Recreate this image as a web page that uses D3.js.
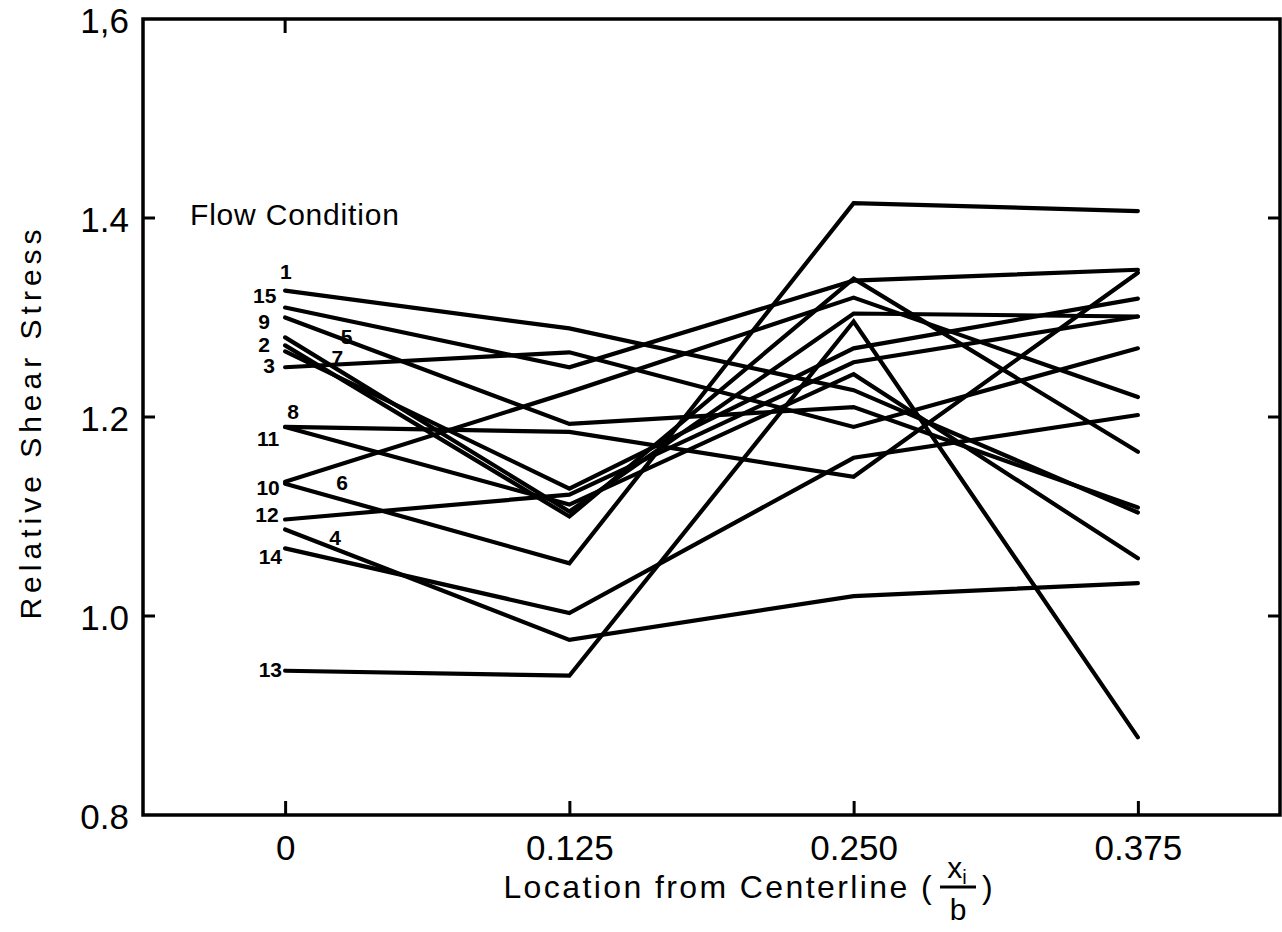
<!DOCTYPE html>
<html>
<head>
<meta charset="utf-8">
<script src="https://cdn.jsdelivr.net/npm/d3@7"></script>
<style>
  html, body { margin: 0; padding: 0; background: #fff; }
  svg { display: block; }
  text { font-family: "Liberation Sans", Arial, sans-serif; fill: #000; }
</style>
</head>
<body>
<svg id="chart" width="1282" height="932"></svg>
<script>
// Measurement stations across the channel (x_i / b)
const locations = [0, 0.125, 0.250, 0.375];
const locationLabels = ["0", "0.125", "0.250", "0.375"];

// Relative shear stress for each flow condition at the four stations
const flow1  = [1.327, 1.289, 1.227, 1.104];
const flow2  = [1.280, 1.105, 1.304, 1.301];
const flow3  = [1.250, 1.265, 1.190, 1.269];
const flow4  = [1.087, 0.976, 1.020, 1.033];
const flow5  = [1.272, 1.100, 1.339, 1.165];
const flow6  = [1.133, 1.053, 1.415, 1.407];
const flow7  = [1.266, 1.128, 1.269, 1.319];
const flow8  = [1.190, 1.185, 1.140, 1.345];
const flow9  = [1.300, 1.193, 1.210, 1.109];
const flow10 = [1.135, 1.225, 1.320, 1.220];
const flow11 = [1.190, 1.112, 1.243, 1.058];
const flow12 = [1.097, 1.122, 1.255, 1.301];
const flow13 = [0.945, 0.940, 1.296, 0.878];
const flow14 = [1.068, 1.003, 1.159, 1.202];
const flow15 = [1.310, 1.250, 1.337, 1.348];

const flowNames = ["1","2","3","4","5","6","7","8","9","10","11","12","13","14","15"];
const flowValues = [flow1, flow2, flow3, flow4, flow5, flow6, flow7, flow8,
                    flow9, flow10, flow11, flow12, flow13, flow14, flow15];

// Where each flow-condition number is lettered (location, stress)
const tagLocation = [0.0003, -0.0093, -0.0070, 0.0220, 0.0270, 0.0250, 0.0230, 0.0035,
                     -0.0093, -0.0075, -0.0075, -0.0080, -0.0065, -0.0065, -0.0090];
const tagStress   = [1.346, 1.273, 1.252, 1.079, 1.281, 1.134, 1.260, 1.206,
                     1.296, 1.129, 1.178, 1.102, 0.946, 1.060, 1.322];

const yTicks = [0.8, 1.0, 1.2, 1.4, 1.6];
const yTickLabels = ["0.8", "1.0", "1.2", "1.4", "1,6"];

const series = flowNames.map((name, i) => ({
  name,
  points: locations.map((loc, j) => ({ loc, value: flowValues[i][j] })),
  tag: { loc: tagLocation[i], value: tagStress[i] }
}));

const svg = d3.select("#chart");
const x = d3.scaleLinear().domain([-0.0625, 0.4375]).range([143, 1280]);
const y = d3.scaleLinear().domain([0.8, 1.6]).range([815, 19]);

// Data lines
const line = d3.line().x(d => x(d.loc)).y(d => y(d.value));
svg.append("g")
  .selectAll("path")
  .data(series)
  .join("path")
  .attr("d", d => line(d.points))
  .attr("fill", "none")
  .attr("stroke", "#000")
  .attr("stroke-width", 4.2)
  .attr("stroke-linejoin", "miter")
  .attr("stroke-linecap", "round");

// Plot frame
svg.append("rect")
  .attr("x", x(-0.0625)).attr("y", y(1.6))
  .attr("width", x(0.4375) - x(-0.0625))
  .attr("height", y(0.8) - y(1.6))
  .attr("fill", "none").attr("stroke", "#000").attr("stroke-width", 3.5);

// Bottom axis: inward ticks and labels
const xAxis = d3.axisBottom(x).tickValues(locations).tickSize(-14)
  .tickFormat((d, i) => locationLabels[i]).tickPadding(20);
const gx = svg.append("g").attr("transform", `translate(0,${y(0.8)})`).call(xAxis);
gx.select(".domain").remove();
gx.selectAll(".tick line").attr("stroke", "#000").attr("stroke-width", 3);
gx.selectAll(".tick text").attr("font-size", 35).attr("dy", "0.71em");

// Top tick at the centerline
svg.append("line")
  .attr("x1", x(0)).attr("x2", x(0))
  .attr("y1", y(1.6)).attr("y2", y(1.6) + 14)
  .attr("stroke", "#000").attr("stroke-width", 3);

// Left axis: inward ticks on interior values, labels on all
const yAxis = d3.axisLeft(y).tickValues(yTicks).tickSize(0)
  .tickFormat((d, i) => yTickLabels[i]).tickPadding(14);
const gy = svg.append("g").attr("transform", `translate(${x(-0.0625)},0)`).call(yAxis);
gy.select(".domain").remove();
gy.selectAll(".tick text").attr("font-size", 35).attr("dy", "0.38em");

const innerTicks = yTicks.filter(v => v > 0.8 && v < 1.6);
svg.append("g").selectAll("line").data(innerTicks).join("line")
  .attr("x1", x(-0.0625)).attr("x2", x(-0.0625) + 12)
  .attr("y1", d => y(d)).attr("y2", d => y(d))
  .attr("stroke", "#000").attr("stroke-width", 3);
svg.append("g").selectAll("line").data(innerTicks).join("line")
  .attr("x1", x(0.4375)).attr("x2", x(0.4375) - 12)
  .attr("y1", d => y(d)).attr("y2", d => y(d))
  .attr("stroke", "#000").attr("stroke-width", 3);

// Flow condition numbers
svg.append("g").selectAll("text").data(series).join("text")
  .attr("x", d => x(d.tag.loc)).attr("y", d => y(d.tag.value))
  .attr("text-anchor", "middle").attr("dy", "0.36em")
  .attr("font-size", 21).attr("font-weight", "bold")
  .text(d => d.name);

svg.append("text")
  .attr("x", 190).attr("y", y(1.4) - 4)
  .attr("dy", "0.36em").attr("font-size", 30).attr("letter-spacing", 0.8)
  .text("Flow Condition");

// Axis titles
svg.append("text")
  .attr("transform", `translate(30,${(y(1.6) + y(0.8)) / 2 + 5}) rotate(-90)`)
  .attr("text-anchor", "middle").attr("dy", "0.36em")
  .attr("font-size", 30).attr("letter-spacing", 5)
  .text("Relative Shear Stress");

const xt = svg.append("g").attr("transform", "translate(0,898)");
xt.append("text").attr("x", 934).attr("text-anchor", "end")
  .attr("font-size", 32).attr("letter-spacing", 2.4)
  .text("Location from Centerline (");
xt.append("text").attr("x", 957).attr("y", -20).attr("text-anchor", "middle")
  .attr("font-size", 30).text("x")
  .append("tspan").attr("font-size", 20).attr("dy", 6).text("i");
xt.append("line").attr("x1", 940).attr("x2", 976).attr("y1", -11).attr("y2", -11)
  .attr("stroke", "#000").attr("stroke-width", 3);
xt.append("text").attr("x", 958).attr("y", 22).attr("text-anchor", "middle")
  .attr("font-size", 30).text("b");
xt.append("text").attr("x", 982).attr("font-size", 32).text(")");
</script>
</body>
</html>
